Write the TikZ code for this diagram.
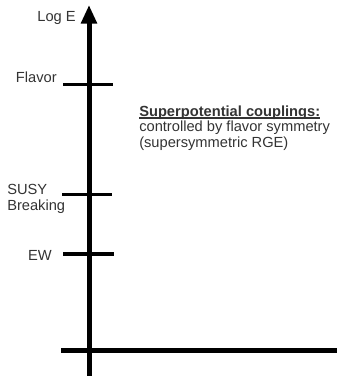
\documentclass[tikz,border=0pt]{standalone}
\usepackage{fontspec}
\setmainfont{Liberation Sans}
\usetikzlibrary{arrows.meta}
\definecolor{txt}{HTML}{333333}
\begin{document}
\begin{tikzpicture}[x=0.75pt,y=-0.75pt,
  axisline/.style={line width=3.75pt,black},
  tickline/.style={line width=2.3pt,black},
  lbl/.style={inner sep=0pt,text=txt,font=\fontsize{11}{11.8}\selectfont}]
\useasboundingbox (0,0) rectangle (337,376);
% axes
\coordinate (ybot) at (89,376);
\coordinate (ytop) at (89,5);
\coordinate (xl) at (61,350.5);
\coordinate (xr) at (337,350.5);
\draw[axisline,-{Triangle[width=11.5pt,length=14pt]}] (ybot) -- (ytop);
\draw[axisline] (xl) -- (xr);
% scale ticks
\coordinate (f1) at (63,84.5);  \coordinate (f2) at (113,84.5);
\coordinate (s1) at (62,194.5); \coordinate (s2) at (112,194.5);
\coordinate (e1) at (63,254);   \coordinate (e2) at (114,254);
\draw[tickline] (f1) -- (f2);
\draw[tickline] (s1) -- (s2);
\draw[tickline] (e1) -- (e2);
% scale labels
\node[lbl,anchor=base east] (logE) at (76,21.5) {Log E};
\node[lbl,anchor=base east] (flav) at (57,82.5) {Flavor};
\node[lbl,anchor=base west,align=left] (susy) at (7,210.5) {SUSY\\Breaking};
\node[lbl,anchor=base east] (ew) at (52,260.5) {EW};
% description block
\node[lbl,anchor=base west,font=\fontsize{11}{11.8}\selectfont\bfseries] (title) at (139,116) {Superpotential couplings:};
\node[lbl,anchor=base west] (line2) at (139,131.5) {controlled by flavor symmetry};
\node[lbl,anchor=base west] (line3) at (139,147) {(supersymmetric RGE)};
\draw[txt,line width=1.1pt] ([yshift=-1.6pt]title.base west) -- ([yshift=-1.6pt]title.base east);
\end{tikzpicture}
\end{document}
